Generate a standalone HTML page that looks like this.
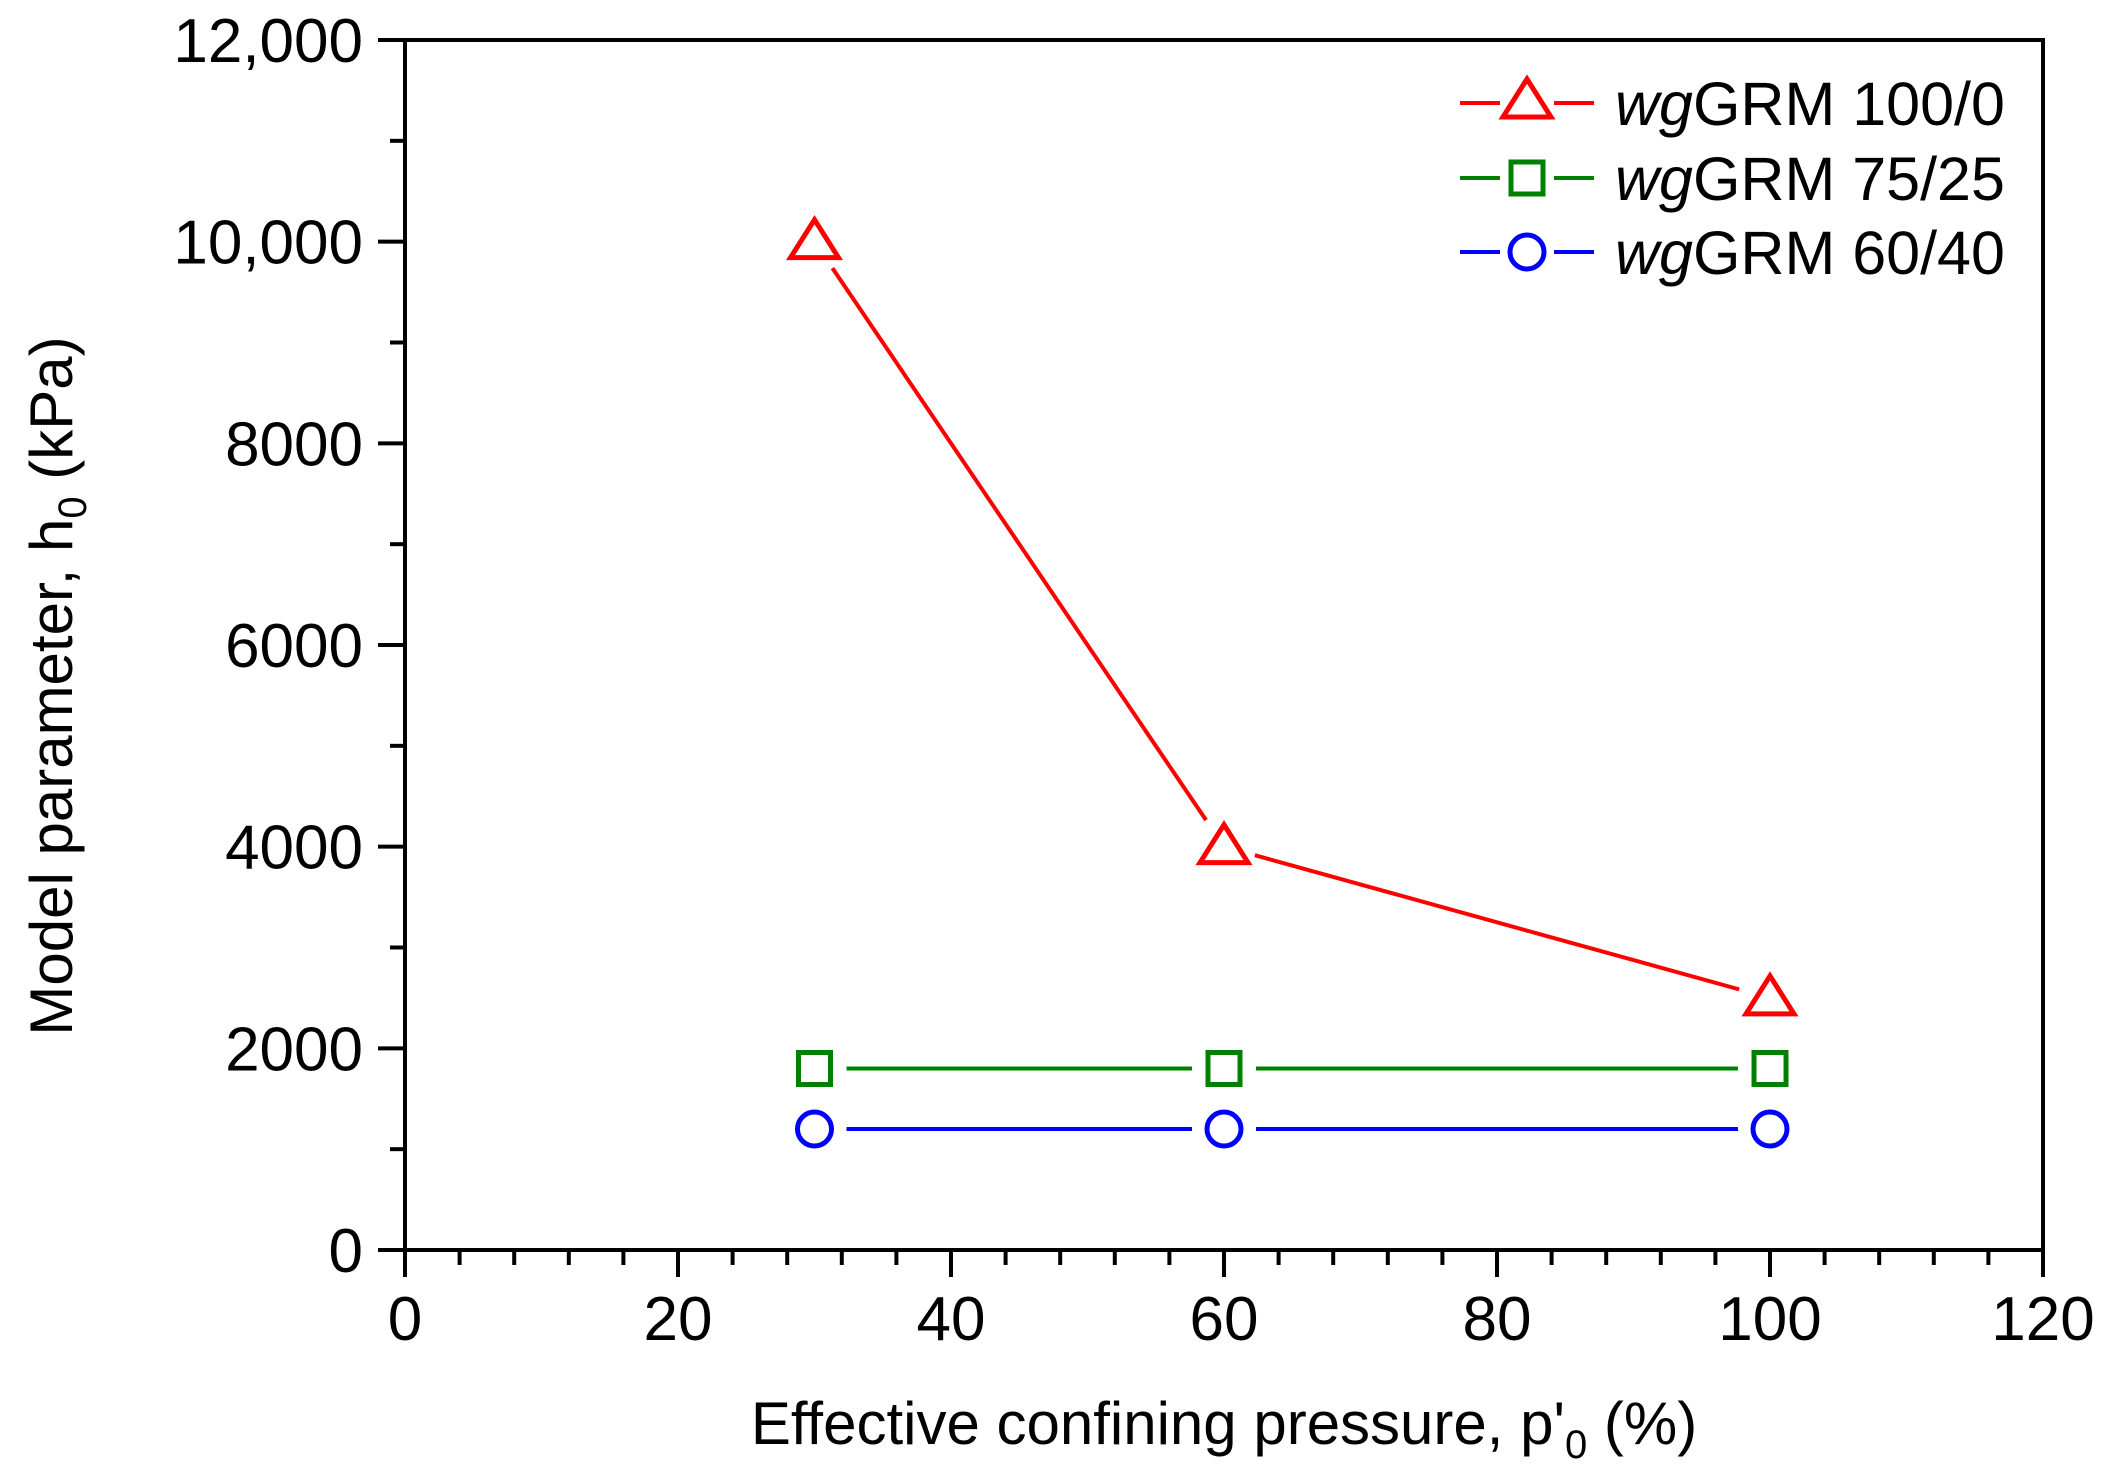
<!DOCTYPE html>
<html><head><meta charset="utf-8"><style>
html,body{margin:0;padding:0;background:#fff;}
svg{display:block;font-family:"Liberation Sans",Arial,sans-serif;}
</style></head><body>
<svg id="chart" width="2110" height="1478" viewBox="0 0 2110 1478">
<g id="axes"></g>
<g id="series"></g>
<g id="legend"></g>
<text x="1224" y="1444" font-size="60" text-anchor="middle">Effective confining pressure, p'<tspan font-size="40" dy="14">0</tspan><tspan dy="-14"> (%)</tspan></text>
<text transform="translate(72,686) rotate(-90)" font-size="60" text-anchor="middle">Model parameter, h<tspan font-size="40" dy="14">0</tspan><tspan dy="-14"> (kPa)</tspan></text>
</svg>
<script>
const categories = [30, 60, 100];
const series100_0 = [10000, 4000, 2500];
const series75_25 = [1800, 1800, 1800];
const series60_40 = [1200, 1200, 1200];
const xTicks = [0, 20, 40, 60, 80, 100, 120];
const yTicks = [0, 2000, 4000, 6000, 8000, 10000, 12000];
const yTickLabels = ["0", "2000", "4000", "6000", "8000", "10,000", "12,000"];
const seriesNames = ["wgGRM 100/0", "wgGRM 75/25", "wgGRM 60/40"];

const NS = "http://www.w3.org/2000/svg";
const L = 405, R = 2043, T = 40, B = 1250;
const xs = v => L + (v - 0) / 120 * (R - L);
const ys = v => B - (v - 0) / 12000 * (B - T);
function mk(tag, attrs, parent) {
  const e = document.createElementNS(NS, tag);
  for (const k in attrs) e.setAttribute(k, attrs[k]);
  parent.appendChild(e);
  return e;
}
const axes = document.getElementById('axes');
const frame = mk('rect', {x: L, y: T, width: R - L, height: B - T, fill: 'none', stroke: '#000', 'stroke-width': 4}, axes);


for (let v = 0; v <= 120; v += 4) {
  const major = v % 20 === 0;
  const t = mk('line', {x1: xs(v), x2: xs(v), y1: B, y2: B + (major ? 27 : 15), stroke: '#000', 'stroke-width': 4}, axes);
  
  
}
for (let v = 0; v <= 12000; v += 1000) {
  const major = v % 2000 === 0;
  const t = mk('line', {x1: L - (major ? 27 : 15), x2: L, y1: ys(v), y2: ys(v), stroke: '#000', 'stroke-width': 4}, axes);
  
  
}
xTicks.forEach(v => {
  const t = mk('text', {x: xs(v), y: 1340, 'font-size': 62, 'text-anchor': 'middle'}, axes);
  t.textContent = String(v);
  
  
});
yTicks.forEach((v, i) => {
  const t = mk('text', {x: 363, y: ys(v) + 22, 'font-size': 62, 'text-anchor': 'end'}, axes);
  t.textContent = yTickLabels[i];
  
  
});

function marker(shape, cx, cy, color, parent) {
  let e;
  if (shape === 'tri') {
    e = mk('polygon', {points: `${cx},${cy-22} ${cx-24},${cy+16} ${cx+24},${cy+16}`, fill: 'none', stroke: color, 'stroke-width': 5}, parent);
  } else if (shape === 'sq') {
    e = mk('rect', {x: cx-16, y: cy-16, width: 32, height: 32, fill: 'none', stroke: color, 'stroke-width': 5}, parent);
  } else {
    e = mk('circle', {cx: cx, cy: cy, r: 17, fill: 'none', stroke: color, 'stroke-width': 5}, parent);
  }
  return e;
}
const sg = document.getElementById('series');
const defs = [
  {vals: series100_0, color: '#ff0000', shape: 'tri', name: 'series-wggrm-100-0'},
  {vals: series75_25, color: '#008000', shape: 'sq', name: 'series-wggrm-75-25'},
  {vals: series60_40, color: '#0000ff', shape: 'circle', name: 'series-wggrm-60-40'}
];
defs.forEach(d => {
  const g = mk('g', {}, sg);
  
  
  const gap = 32;
  for (let i = 0; i < categories.length - 1; i++) {
    const x1 = xs(categories[i]), y1 = ys(d.vals[i]), x2 = xs(categories[i+1]), y2 = ys(d.vals[i+1]);
    const len = Math.hypot(x2 - x1, y2 - y1), ux = (x2 - x1) / len, uy = (y2 - y1) / len;
    const ln = mk('line', {x1: x1 + ux*gap, y1: y1 + uy*gap, x2: x2 - ux*gap, y2: y2 - uy*gap, stroke: d.color, 'stroke-width': 4}, g);
    
    
  }
  categories.forEach((c, i) => {
    const m = marker(d.shape, xs(c), ys(d.vals[i]), d.color, g);
    
    
  });
});

const lg = document.getElementById('legend');
const rowsY = [103, 178, 252];
defs.forEach((d, i) => {
  const g = mk('g', {}, lg);
  
  
  const y = rowsY[i];
  mk('line', {x1: 1460, x2: 1500, y1: y, y2: y, stroke: d.color, 'stroke-width': 4}, g);
  mk('line', {x1: 1554, x2: 1594, y1: y, y2: y, stroke: d.color, 'stroke-width': 4}, g);
  marker(d.shape, 1527, d.shape === 'tri' ? y - 2 : y, d.color, g);
  const t = mk('text', {x: 1615, y: y + 22, 'font-size': 61}, g);
  const it = mk('tspan', {'font-style': 'italic'}, t);
  it.textContent = 'wg';
  const rest = mk('tspan', {}, t);
  rest.textContent = seriesNames[i].slice(2);
});
</script>
</body></html>
